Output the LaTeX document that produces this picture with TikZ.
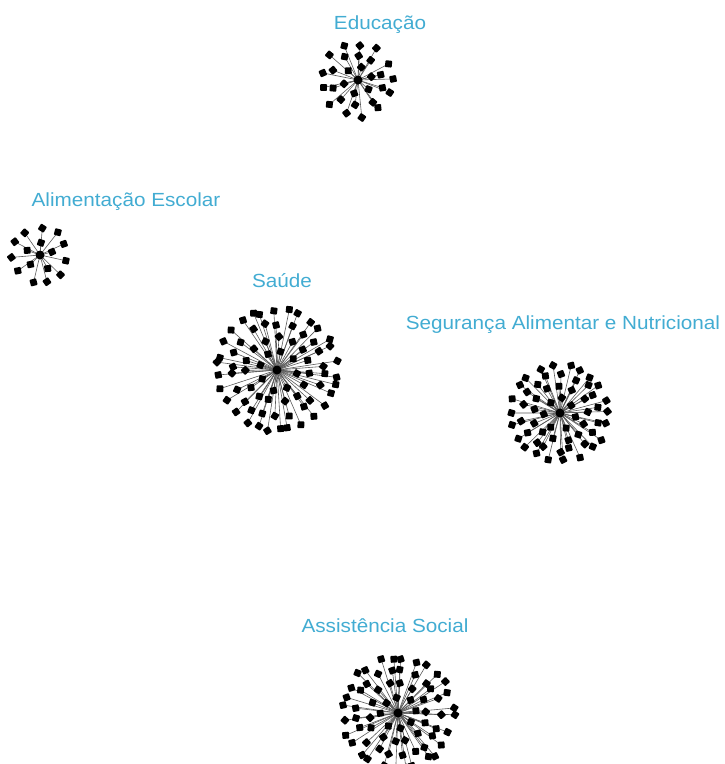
\documentclass[tikz,border=0pt]{standalone}
\usepackage{fontspec}
\setmainfont{Liberation Sans}
\definecolor{lblblue}{RGB}{66,172,210}
\tikzset{
  lbl/.style={text=lblblue, anchor=base, inner sep=0pt, font=\fontsize{19}{22}\selectfont},
  hub/.style={fill=black, draw=none, circle, minimum size=9pt, inner sep=0pt},
  leaf/.style={fill=black, draw=none, rectangle, rounded corners=0.8pt, minimum size=6.8pt, inner sep=0pt},
  edge/.style={draw=black!65, line width=0.6pt}
}
\newcommand{\starcluster}[3]{%
  \coordinate (#1-c) at (#2);
  % pass 1: positions
  \foreach \rr/\nn [count=\ri] in {#3} {
    \pgfmathsetmacro{\off}{rnd*360}
    \foreach \k in {1,...,\nn} {
      \pgfmathsetmacro{\ang}{\off+360*\k/\nn+rand*5}
      \pgfmathsetmacro{\rad}{\rr+rand*2}
      \coordinate (#1-\ri-\k) at ([shift={(\ang:\rad)}]#1-c);
    }
  }
  % pass 2: connectors
  \foreach \rr/\nn [count=\ri] in {#3} {
    \foreach \k in {1,...,\nn} {
      \draw[edge] (#1-c) -- (#1-\ri-\k);
    }
  }
  % pass 3: nodes
  \node[hub] (#1-hub) at (#1-c) {};
  \foreach \rr/\nn [count=\ri] in {#3} {
    \foreach \k in {1,...,\nn} {
      \pgfmathsetmacro{\rot}{rnd*90}
      \node[leaf, rotate=\rot] (#1-\ri-\k-n) at (#1-\ri-\k) {};
    }
  }
}
\begin{document}
\begin{tikzpicture}[x=1pt,y=-1pt]
\pgfmathsetseed{12345}
\useasboundingbox (0,0) rectangle (725,764);

\node[lbl] (l-edu) at (380,29) {\scalebox{1.09}[1]{Educação}};
\node[lbl] (l-ali) at (126,206) {\scalebox{1.09}[1]{Alimentação Escolar}};
\node[lbl] (l-sau) at (282,287) {\scalebox{1.09}[1]{Saúde}};
\node[lbl] (l-seg) at (563,329) {\scalebox{1.09}[1]{Segurança Alimentar e Nutricional}};
\node[lbl] (l-ass) at (385,632) {\scalebox{1.09}[1]{Assistência Social}};

\starcluster{edu}{358,80}{14/6,25/10,36/13}
\starcluster{ali}{40,255}{14/5,28/11}
\starcluster{sau}{277,370}{19/8,32/15,46/22,60/30}
\starcluster{seg}{560,413}{15/7,27/13,38/18,48/22}
\starcluster{ass}{398,713}{17/8,29/14,42/21,55/28}
\end{tikzpicture}
\end{document}
